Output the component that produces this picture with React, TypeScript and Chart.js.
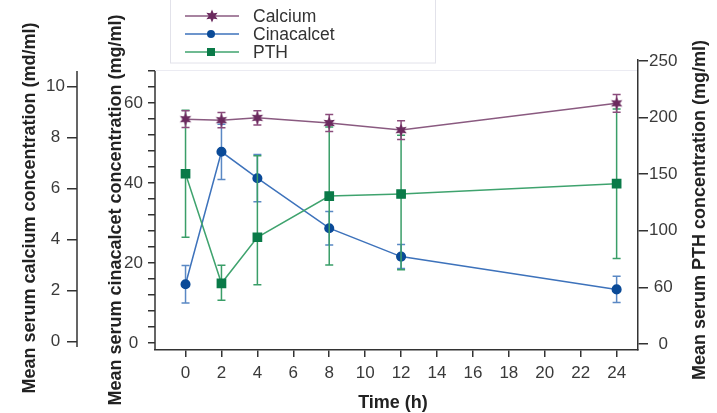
import React, { useEffect, useRef } from 'react';
import { Chart, registerables } from 'chart.js';

Chart.register(...registerables);

const times = [0, 2, 4, 8, 12, 24];
const calcium = [8.73, 8.69, 8.78, 8.58, 8.3, 9.35];
const calciumErr = [0.33, 0.3, 0.28, 0.33, 0.37, 0.35];
const cinacalcet = [14.7, 47.8, 41.2, 28.7, 21.6, 13.4];
const cinacalcetErr = [4.7, 6.9, 5.9, 4.2, 3.0, 3.3];
const pth = [150.4, 53.6, 94.3, 130.7, 132.5, 141.6];
const pthErrUp = [56, 16, 72, 61, 52, 66];
const pthErrDown = [56, 15, 42, 61, 67, 66];

const xTicks = [0, 2, 4, 6, 8, 10, 12, 14, 16, 18, 20, 22, 24];
const calciumTicks = [0, 2, 4, 6, 8, 10];
const cinacalcetTicks = [0, 4, 8, 12, 16, 20, 24, 28, 32, 36, 40, 44, 48, 52, 56, 60, 64, 68];
const cinacalcetLabeled = [0, 20, 40, 60];
const pthTicks = [0, 50, 100, 150, 200, 250];
const pthTickLabels = ['0', '60', '100', '150', '200', '250'];

const seriesNames = ['Calcium', 'Cinacalcet', 'PTH'];
const titleCalcium = 'Mean serum calcium concentration (md/ml)';
const titleCinacalcet = 'Mean serum cinacalcet concentration (mg/ml)';
const titlePth = 'Mean serum PTH concentration (mg/ml)';
const titleX = 'Time (h)';

const FONT = '"Liberation Sans", Arial, Helvetica, sans-serif';
const AXIS = '#333333';
const TICKTXT = '#3a3a3a';

const CA_LINE = '#8a5a80';
const CA_MARK = '#6b2a5e';
const CA_ERR = '#8b4c7c';
const CIN_LINE = '#3d72bb';
const CIN_MARK = '#0a4a97';
const CIN_ERR = '#5a88c4';
const PTH_LINE = '#3fa36e';
const PTH_MARK = '#0a7a48';
const PTH_ERR = '#3a9e68';

function makeStar(color: string): HTMLCanvasElement {
  const c = document.createElement('canvas');
  c.width = 14;
  c.height = 14;
  const ctx = c.getContext('2d')!;
  ctx.fillStyle = color;
  ctx.beginPath();
  const n = 6;
  for (let i = 0; i < n * 2; i++) {
    const r = i % 2 === 0 ? 6.5 : 3.2;
    const a = (Math.PI * i) / n - Math.PI / 2;
    const px = 7 + r * Math.cos(a);
    const py = 7 + r * Math.sin(a);
    if (i === 0) ctx.moveTo(px, py);
    else ctx.lineTo(px, py);
  }
  ctx.closePath();
  ctx.fill();
  return c;
}

export default function App() {
  const ref = useRef<HTMLCanvasElement>(null);

  useEffect(() => {
    const canvas = ref.current!;
    const star = makeStar(CA_MARK);

    const errInfo: Record<string, { up: number[]; down: number[]; color: string; axis: string }> = {
      Calcium: { up: calciumErr, down: calciumErr, color: CA_ERR, axis: 'yCa' },
      Cinacalcet: { up: cinacalcetErr, down: cinacalcetErr, color: CIN_ERR, axis: 'yCin' },
      PTH: { up: pthErrUp, down: pthErrDown, color: PTH_ERR, axis: 'yPth' },
    };
    const values: Record<string, number[]> = { Calcium: calcium, Cinacalcet: cinacalcet, PTH: pth };

    const errorBars = {
      id: 'errorBars',
      beforeDatasetDraw(chart: any, args: any) {
        const ds = chart.data.datasets[args.index];
        const info = errInfo[ds.label];
        if (!info) return;
        const vals = values[ds.label];
        const ys = chart.scales[info.axis];
        const xs = chart.scales.x;
        const ctx = chart.ctx;
        ctx.save();
        ctx.strokeStyle = info.color;
        ctx.lineWidth = 1.5;
        for (let i = 0; i < vals.length; i++) {
          const px = xs.getPixelForValue(times[i]);
          const yTop = ys.getPixelForValue(vals[i] + info.up[i]);
          const yBot = ys.getPixelForValue(vals[i] - info.down[i]);
          ctx.beginPath();
          ctx.moveTo(px, yTop);
          ctx.lineTo(px, yBot);
          ctx.moveTo(px - 4, yTop);
          ctx.lineTo(px + 4, yTop);
          ctx.moveTo(px - 4, yBot);
          ctx.lineTo(px + 4, yBot);
          ctx.stroke();
        }
        ctx.restore();
      },
    };

    const decorations = {
      id: 'decorations',
      beforeDraw(chart: any) {
        const ctx = chart.ctx;
        const area = chart.chartArea;
        const cin = chart.scales.yCin;
        ctx.save();
        ctx.strokeStyle = '#ebebf2';
        ctx.lineWidth = 1;
        const topY = Math.round(cin.getPixelForValue(68)) - 0.5;
        ctx.beginPath();
        ctx.moveTo(area.left, topY);
        ctx.lineTo(area.right, topY);
        ctx.stroke();
        ctx.restore();
      },
      afterDraw(chart: any) {
        const ctx = chart.ctx;
        const area = chart.chartArea;
        const ca = chart.scales.yCa;
        const cin = chart.scales.yCin;
        ctx.save();
        // left axis lines
        ctx.strokeStyle = AXIS;
        ctx.lineWidth = 1.5;
        const topY = cin.getPixelForValue(68);
        ctx.beginPath();
        ctx.moveTo(ca.right, topY);
        ctx.lineTo(ca.right, area.bottom - 3);
        ctx.moveTo(cin.right, topY);
        ctx.lineTo(cin.right, area.bottom);
        ctx.stroke();

        // legend
        const lx = 170.5;
        const lw = 265;
        ctx.strokeStyle = '#e2e2ea';
        ctx.lineWidth = 1;
        ctx.strokeRect(lx, -1, lw, 64);
        const rows = [
          { name: seriesNames[0], line: CA_LINE, mark: CA_MARK, kind: 'star' },
          { name: seriesNames[1], line: CIN_LINE, mark: CIN_MARK, kind: 'circle' },
          { name: seriesNames[2], line: PTH_LINE, mark: PTH_MARK, kind: 'rect' },
        ];
        rows.forEach((r, i) => {
          const y = 16 + i * 18;
          ctx.strokeStyle = r.line;
          ctx.lineWidth = 1.5;
          ctx.beginPath();
          ctx.moveTo(185, y);
          ctx.lineTo(239, y);
          ctx.stroke();
          ctx.fillStyle = r.mark;
          if (r.kind === 'star') {
            ctx.drawImage(star, 212 - 7, y - 7);
          } else if (r.kind === 'circle') {
            ctx.beginPath();
            ctx.arc(211, y, 4, 0, Math.PI * 2);
            ctx.fill();
          } else {
            ctx.fillRect(207, y - 4, 8, 8);
          }
          ctx.fillStyle = '#333';
          ctx.font = `17.5px ${FONT}`;
          ctx.textBaseline = 'middle';
          ctx.textAlign = 'left';
          ctx.fillText(r.name, 253, y + 1);
        });

        // titles
        ctx.fillStyle = '#222';
        ctx.font = `bold 18px ${FONT}`;
        ctx.textAlign = 'center';
        ctx.textBaseline = 'middle';
        const vt = (text: string, x: number, y: number) => {
          ctx.save();
          ctx.translate(x, y);
          ctx.rotate(-Math.PI / 2);
          ctx.fillText(text, 0, 0);
          ctx.restore();
        };
        vt(titleCalcium, 30, 208);
        vt(titleCinacalcet, 116, 210);
        vt(titlePth, 700, 210);
        ctx.fillText(titleX, 393, 403);
        ctx.restore();
      },
    };

    const tickFont = { family: FONT, size: 17 };

    const chart = new Chart(canvas, {
      type: 'line',
      data: {
        datasets: [
          {
            label: 'Calcium',
            data: times.map((t, i) => ({ x: t, y: calcium[i] })),
            yAxisID: 'yCa',
            borderColor: CA_LINE,
            backgroundColor: CA_MARK,
            borderWidth: 1.5,
            pointStyle: star as any,
            pointRadius: 6,
            order: 0,
          },
          {
            label: 'PTH',
            data: times.map((t, i) => ({ x: t, y: pth[i] })),
            yAxisID: 'yPth',
            borderColor: PTH_LINE,
            backgroundColor: PTH_MARK,
            pointBackgroundColor: PTH_MARK,
            pointBorderColor: PTH_MARK,
            borderWidth: 1.5,
            pointStyle: 'rect',
            pointRadius: 5.8,
            order: 1,
          },
          {
            label: 'Cinacalcet',
            data: times.map((t, i) => ({ x: t, y: cinacalcet[i] })),
            yAxisID: 'yCin',
            borderColor: CIN_LINE,
            backgroundColor: CIN_MARK,
            pointBackgroundColor: CIN_MARK,
            pointBorderColor: CIN_MARK,
            borderWidth: 1.5,
            pointStyle: 'circle',
            pointRadius: 4.3,
            order: 2,
          },
        ],
      },
      options: {
        responsive: false,
        animation: false,
        layout: { padding: { top: 60, left: 0, right: 0, bottom: 0 } },
        plugins: { legend: { display: false }, tooltip: { enabled: false } },
        scales: {
          x: {
            type: 'linear',
            position: 'bottom',
            min: -1.7,
            max: 25.19,
            afterBuildTicks: (s: any) => {
              s.ticks = xTicks.map((v) => ({ value: v }));
            },
            afterFit: (s: any) => {
              s.height = 63;
            },
            grid: { drawOnChartArea: false, drawTicks: true, tickLength: 7, color: AXIS, lineWidth: 1.5 },
            border: { display: true, color: AXIS, width: 1.5 },
            ticks: { font: tickFont, color: TICKTXT, padding: 6, maxRotation: 0, autoSkip: false },
          },
          yCa: {
            type: 'linear',
            position: 'left',
            weight: 2,
            min: -0.325,
            max: 11.05,
            afterBuildTicks: (s: any) => {
              s.ticks = calciumTicks.map((v) => ({ value: v }));
            },
            afterFit: (s: any) => {
              s.width = 77;
            },
            grid: { drawOnChartArea: false, drawTicks: true, tickLength: 10, color: AXIS, lineWidth: 1.5 },
            border: { display: false },
            ticks: { font: tickFont, color: TICKTXT, padding: 2, crossAlign: 'center', autoSkip: false },
          },
          yCin: {
            type: 'linear',
            position: 'left',
            weight: 1,
            min: -1.75,
            max: 70.75,
            afterBuildTicks: (s: any) => {
              s.ticks = cinacalcetTicks.map((v) => ({ value: v }));
            },
            afterFit: (s: any) => {
              s.width = 78;
            },
            grid: { drawOnChartArea: false, drawTicks: true, tickLength: 7, color: AXIS, lineWidth: 1.5 },
            border: { display: false },
            ticks: {
              font: tickFont,
              color: TICKTXT,
              padding: 5,
              crossAlign: 'center',
              autoSkip: false,
              callback: (v: any) => (cinacalcetLabeled.includes(Number(v)) ? String(v) : ''),
            },
          },
          yPth: {
            type: 'linear',
            position: 'right',
            min: -5.3,
            max: 250.9,
            afterBuildTicks: (s: any) => {
              s.ticks = pthTicks.map((v) => ({ value: v }));
            },
            afterFit: (s: any) => {
              s.width = 79;
            },
            grid: { drawOnChartArea: false, drawTicks: true, tickLength: 10, color: AXIS, lineWidth: 1.5 },
            border: { display: true, color: AXIS, width: 1.5 },
            ticks: {
              font: tickFont,
              color: TICKTXT,
              padding: 1,
              crossAlign: 'center',
              autoSkip: false,
              callback: (v: any) => {
                const idx = pthTicks.indexOf(Number(v));
                return idx >= 0 ? pthTickLabels[idx] : '';
              },
            },
          },
        },
      },
      plugins: [errorBars, decorations],
    } as any);

    return () => chart.destroy();
  }, []);

  return (
    <div style={{ position: 'absolute', left: 0, top: 0, width: 717, height: 413, background: '#fff' }}>
      <canvas ref={ref} width={717} height={413} style={{ display: 'block', width: 717, height: 413 }} />
    </div>
  );
}
